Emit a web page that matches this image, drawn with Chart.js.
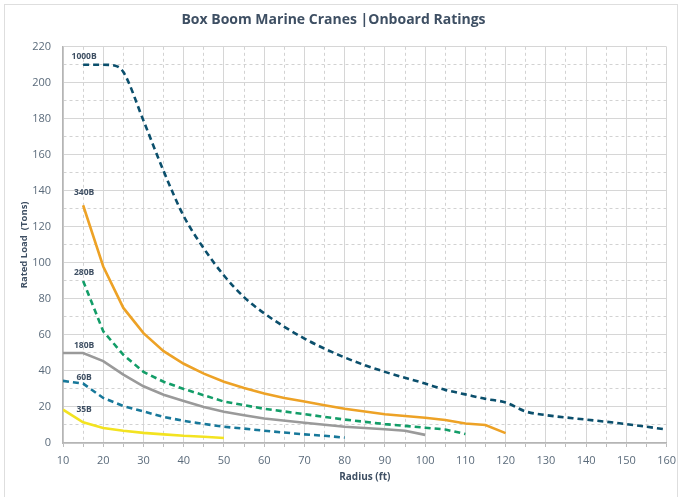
<!DOCTYPE html>
<html>
<head>
<meta charset="utf-8">
<script src="https://cdn.jsdelivr.net/npm/chart.js@4.4.1/dist/chart.umd.min.js"></script>
<style>
  html, body { margin: 0; padding: 0; background: #fff; }
  #card { position: absolute; left: 4px; top: 4px; width: 672px; height: 520px; border: 1px solid #dedede; }
  #wrap { position: absolute; left: 0; top: 0; width: 683px; height: 497px; }
</style>
</head>
<body>
<div id="card"></div>
<div id="wrap"><canvas id="chart"></canvas></div>
<script>
// ratings (radius in ft, load in tons)
const radius1000 = [15, 20, 23, 25, 30, 35, 40, 45, 50, 55, 60, 70, 80, 90, 100, 105, 110, 115, 120, 125, 130, 140, 150, 160];
const load1000   = [210, 210, 209.5, 206, 179, 151, 126, 108, 93, 81, 72, 58, 47.5, 39.5, 33, 29.5, 27, 24.5, 22.5, 17.5, 15.5, 13, 10.5, 7.5];

const radius340 = [15, 20, 25, 30, 35, 40, 45, 50, 55, 60, 65, 70, 75, 80, 90, 100, 105, 110, 115, 120];
const load340   = [132, 98, 75, 61, 51, 44, 38.5, 34, 30.5, 27.5, 25, 23, 21, 19, 16, 14, 12.8, 10.8, 10, 5.5];

const radius280 = [15, 20, 25, 30, 35, 40, 45, 50, 55, 60, 70, 80, 90, 100, 105, 110];
const load280   = [90, 62, 49, 39.5, 34, 30, 26.5, 23, 21, 19, 16, 13, 10.5, 8.5, 7.5, 5];

const radius180 = [10, 15, 20, 25, 30, 35, 40, 45, 50, 55, 60, 70, 80, 90, 95, 100];
const load180   = [50, 50, 45.5, 38, 31.5, 26.8, 23.3, 20, 17.3, 15.4, 13.6, 11.2, 9, 7.6, 6.8, 4.5];

const radius60 = [10, 15, 20, 25, 30, 35, 40, 45, 50, 55, 60, 70, 75, 80];
const load60   = [34.5, 33, 25, 20.5, 17.5, 14.5, 12.3, 10.6, 9, 8, 6.8, 4.8, 4, 3];

const radius35 = [10, 15, 20, 25, 30, 35, 40, 45, 50];
const load35   = [18.5, 11.5, 8.3, 6.8, 5.6, 4.8, 4, 3.5, 2.8];

const seriesNames = ['1000B', '340B', '280B', '180B', '60B', '35B'];

const FONT = "'Open Sans', 'Noto Sans', sans-serif";
const TEXT = '#3e4f63';

function toPoints(xs, ys) {
    return xs.map((x, i) => ({ x: x, y: ys[i] }));
}

function lineSet(name, xs, ys, color, dashed, lift, smooth) {
    return {
        label: name,
        data: toPoints(xs, ys),
        borderColor: color,
        backgroundColor: color,
        borderWidth: 2.6,
        borderDash: dashed ? [6, 4] : [],
        pointRadius: 0,
        fill: false,
        tension: 0,
        cubicInterpolationMode: smooth ? 'monotone' : 'default',
        labelLift: lift
    };
}

// series names drawn just above each curve at 15 ft
const curveLabels = {
    id: 'curveLabels',
    afterDatasetsDraw(chart) {
        const ctx = chart.ctx;
        const xs = chart.scales.x, ys = chart.scales.y;
        ctx.save();
        ctx.font = "bold 8.5px " + FONT;
        ctx.fillStyle = TEXT;
        ctx.textAlign = 'center';
        ctx.textBaseline = 'middle';
        chart.data.datasets.forEach(ds => {
            const p = ds.data.find(d => d.x === 15);
            if (!p) return;
            ctx.fillText(ds.label, xs.getPixelForValue(15) + 1, ys.getPixelForValue(p.y) - ds.labelLift);
        });
        ctx.restore();
    }
};

const gridDash = ctx => (ctx.tick && ctx.tick.value % (ctx.scale.axis === 'x' ? 10 : 20) !== 0) ? [3, 3] : [];
const gridColor = ctx => (ctx.tick && ctx.tick.value % (ctx.scale.axis === 'x' ? 10 : 20) !== 0) ? '#d2d2d2' : '#d6d6d6';

new Chart(document.getElementById('chart'), {
    type: 'line',
    data: {
        datasets: [
            lineSet(seriesNames[0], radius1000, load1000, '#0b4f6c', true, 8, true),
            lineSet(seriesNames[1], radius340, load340, '#eda226', false, 13, false),
            lineSet(seriesNames[2], radius280, load280, '#139d68', true, 8, false),
            lineSet(seriesNames[3], radius180, load180, '#9a9a9a', false, 7, false),
            lineSet(seriesNames[4], radius60, load60, '#17789a', true, 6, false),
            lineSet(seriesNames[5], radius35, load35, '#f3e320', false, 13, false)
        ]
    },
    options: {
        responsive: true,
        maintainAspectRatio: false,
        animation: false,
        layout: { padding: { left: 0, right: 16, top: 0, bottom: 0 } },
        plugins: {
            legend: { display: false },
            tooltip: { enabled: false },
            title: {
                display: true,
                text: 'Box Boom Marine Cranes |Onboard Ratings',
                color: TEXT,
                font: { family: FONT, size: 14, weight: 'bold' },
                padding: { top: 12, bottom: 18 }
            }
        },
        scales: {
            x: {
                type: 'linear',
                min: 10,
                max: 160,
                afterFit(scale) { scale.height = 54; },
                ticks: {
                    stepSize: 5,
                    autoSkip: false,
                    maxRotation: 0,
                    padding: 7,
                    color: '#5b6b7b',
                    font: { family: FONT, size: 11 },
                    callback: v => (v % 10 === 0 ? v : '')
                },
                grid: { color: gridColor, lineWidth: 1, drawTicks: true, tickLength: 4, tickColor: '#bdbdbd' },
                border: { color: '#b5b5b5', width: 1.5, dash: gridDash },
                title: {
                    display: true,
                    text: 'Radius (ft)',
                    color: TEXT,
                    font: { family: FONT, size: 10, weight: 'bold' },
                    padding: { top: 0, bottom: 14 }
                }
            },
            y: {
                min: 0,
                max: 220,
                afterFit(scale) { scale.width = 63; },
                ticks: {
                    stepSize: 10,
                    padding: 12,
                    color: '#5b6b7b',
                    font: { family: FONT, size: 11 },
                    callback: v => (v % 20 === 0 ? v : '')
                },
                grid: { color: gridColor, lineWidth: 1, drawTicks: false },
                border: { color: '#b5b5b5', width: 1.5, dash: gridDash },
                title: {
                    display: true,
                    text: 'Rated Load  (Tons)',
                    color: TEXT,
                    font: { family: FONT, size: 9.5, weight: 'bold' },
                    padding: { top: 19, bottom: 0 }
                }
            }
        }
    },
    plugins: [curveLabels]
});
</script>
</body>
</html>
